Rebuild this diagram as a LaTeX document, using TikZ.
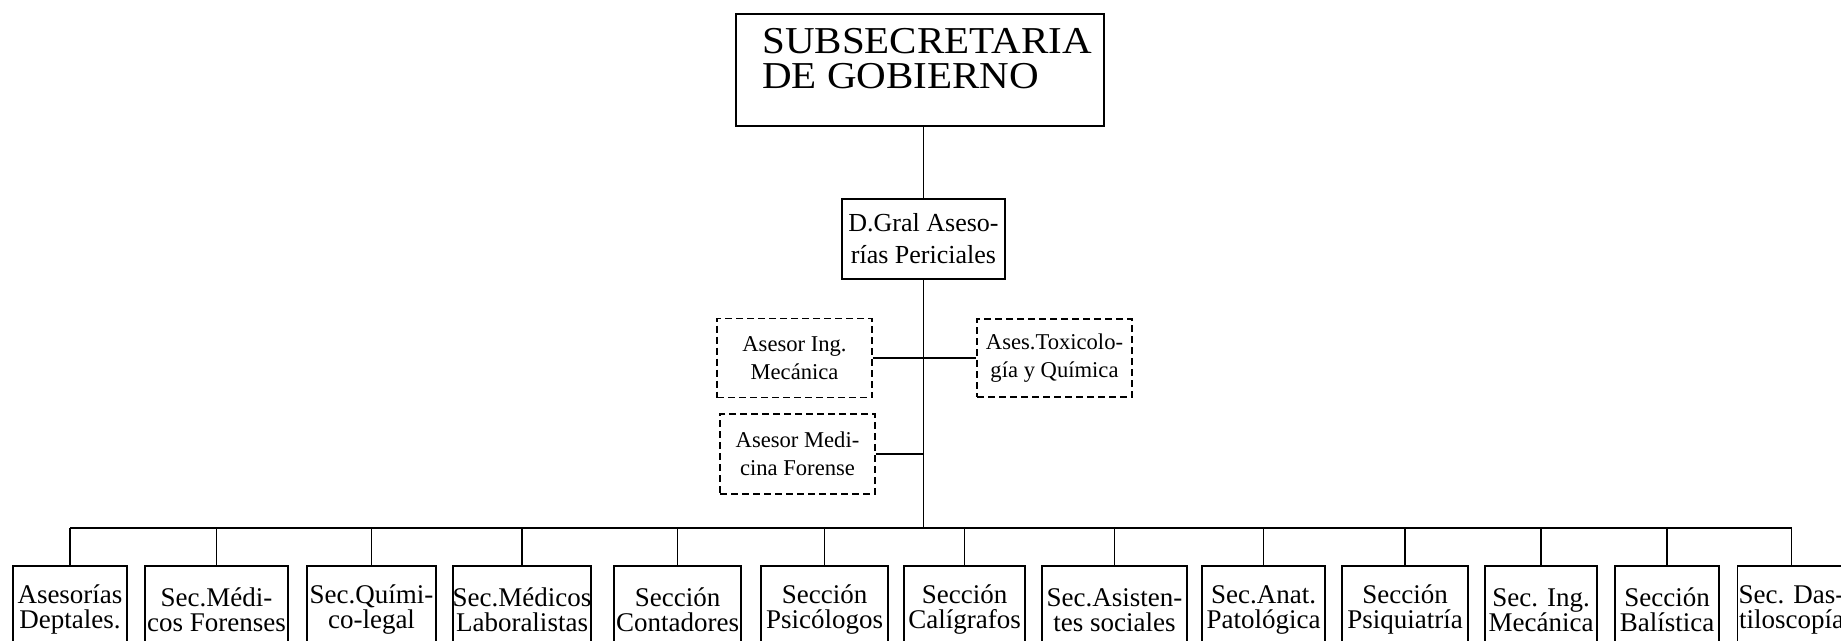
\documentclass[tikz,border=0pt]{standalone}
\usepackage{fontspec}
\setmainfont{Liberation Serif}
\newfontfamily\titlefont{Liberation Serif}[FakeStretch=1.08]
\begin{document}
\begin{tikzpicture}[x=1pt,y=-1pt,
  ln/.style={line width=1.8pt},
  solidbox/.style={draw, line width=1.8pt, inner sep=0pt, align=center},
  dashbox/.style={draw, line width=1.8pt, dash pattern=on 7pt off 4pt, inner sep=0pt, align=center,
     font=\fontsize{22.6}{28}\selectfont, minimum width=155pt},
  botbox/.style={solidbox, anchor=north, minimum height=88pt, font=\fontsize{27}{25}\selectfont}
]
\useasboundingbox (0,0) rectangle (1841,640);
\clip (0,0) rectangle (1841,640);
\fill[white] (0,0) rectangle (1841,640);

% top box
\node[solidbox, anchor=north west, minimum width=368pt, minimum height=112pt] (top) at (735,13) {};
\node[anchor=north west, inner sep=0pt, align=left, font=\titlefont\fontsize{38}{35}\selectfont] (toptext) at (762,28)
  {SUBSECRETARIA\\DE GOBIERNO};

% D. Gral
\node[solidbox, minimum width=163pt, minimum height=80pt, font=\fontsize{26}{32}\selectfont] (dg) at (923.5,239)
  {D.Gral Aseso-\\rías Periciales};

% advisors (dashed)
\node[dashbox, minimum height=79pt] (ing) at (794.5,358) {Asesor Ing.\\Mecánica};
\node[dashbox, minimum height=78pt] (tox) at (1054.5,358) {Ases.Toxicolo-\\gía y Química};
\node[dashbox, minimum height=80pt] (med) at (797.5,454) {Asesor Medi-\\cina Forense};

% bottom boxes
\node[botbox, minimum width=114pt] (b1) at (70,565) {Asesorías\\Deptales.};
\node[botbox, minimum width=143pt] (b2) at (216.5,565) {Sec.Médi-\\cos Forenses};
\node[botbox, minimum width=129pt] (b3) at (371.5,565) {Sec.Quími-\\co-legal};
\node[botbox, minimum width=138pt] (b4) at (522,565) {Sec.Médicos\\Laboralistas};
\node[botbox, minimum width=127pt] (b5) at (677.5,565) {Sección\\Contadores};
\node[botbox, minimum width=127pt] (b6) at (824.5,565) {Sección\\Psicólogos};
\node[botbox, minimum width=121pt] (b7) at (964.5,565) {Sección\\Calígrafos};
\node[botbox, minimum width=145pt] (b8) at (1114.5,565) {Sec.Asisten-\\tes sociales};
\node[botbox, minimum width=123pt] (b9) at (1263.5,565) {Sec.Anat.\\Patológica};
\node[botbox, minimum width=126pt] (b10) at (1405,565) {Sección\\Psiquiatría};
\node[botbox, minimum width=112pt] (b11) at (1541,565) {Sec. Ing.\\Mecánica};
\node[botbox, minimum width=104pt] (b12) at (1667,565) {Sección\\Balística};
\node[botbox, minimum width=108pt] (b13) at (1791.5,565) {Sec. Das-\\tiloscopía};

\coordinate (bus) at (923.5,528);

% connectors
\draw[ln] (dg.north |- top.south) -- (dg.north);
\draw[ln] (dg.south) -- (bus);
\draw[ln] (ing.east) -- (tox.west);
\draw[ln] (med.east) -- (med.east -| dg.south);
\draw[ln] (b1.north |- bus) -- (b13.north |- bus);
\foreach \i in {1,...,13} {
  \draw[ln] (b\i.north |- bus) -- (b\i.north);
}
\end{tikzpicture}
\end{document}
